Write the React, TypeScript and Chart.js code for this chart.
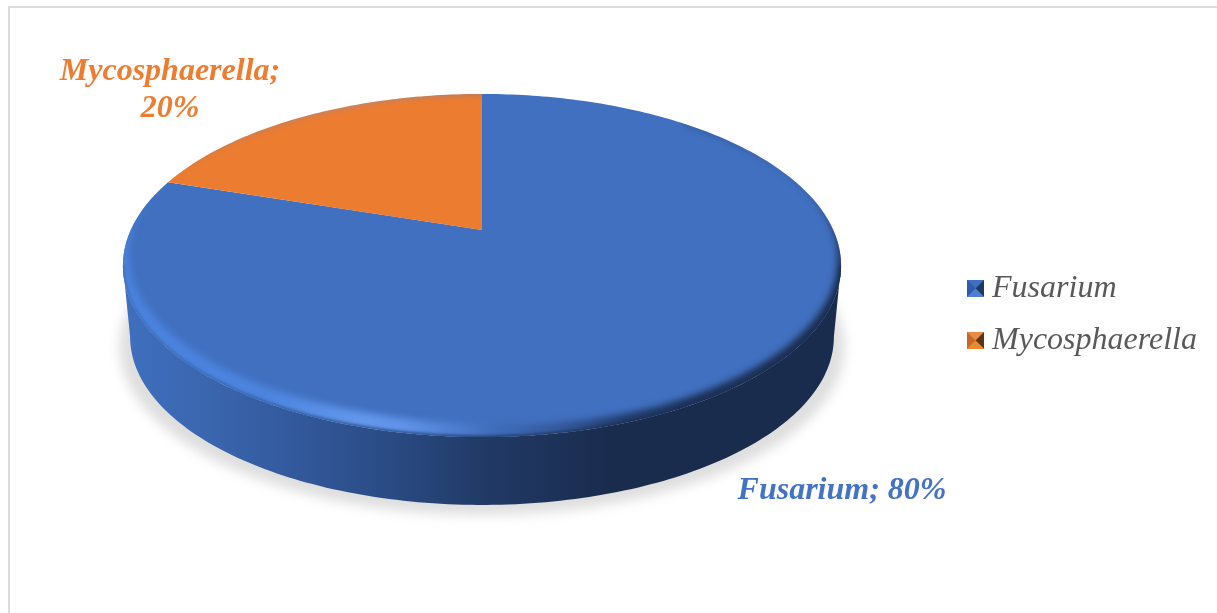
import React, { useEffect, useRef } from "react";
import { Chart, PieController, ArcElement, Legend, Tooltip } from "chart.js";

const categories = ["Fusarium", "Mycosphaerella"];
const shares = [80, 20];
const faceColors = ["#4170C0", "#EC7C30"];
const labelColors = ["#4472C4", "#ED7D31"];
const legendSwatchColors = [
  { top: "#3F6FBF", left: "#2F5CA8", right: "#1F3864", bottom: "#4F80D0" },
  { top: "#E88B44", left: "#C46A25", right: "#5A3414", bottom: "#E8882F" },
];
const labelLines = [["Fusarium; 80%"], ["Mycosphaerella;", "20%"]];
const labelAnchors = [
  { x: 842, y: 491 },
  { x: 170, y: 72 },
];

// Tilted disc: perspective projection of the unit circle onto the page.
const DISC = { cx: 482, cy: 230, a: 351.3, b: 164.2, k: 0.207 };
const EXTRUDE = { dy: 72, scale: 0.98 };
const SAMPLE_STEP = Math.PI / 180;
// Angle at which the projected outline reaches its widest point.
const WIDEST = Math.asin(DISC.k);

type Pt = { x: number; y: number };

function project(angle: number, r = 1): Pt {
  const u = r * Math.cos(angle);
  const v = r * Math.sin(angle);
  const w = 1 - DISC.k * v;
  return { x: DISC.cx + (DISC.a * u) / w, y: DISC.cy + (DISC.b * v) / w };
}

function projectLower(angle: number): Pt {
  const p = project(angle);
  return {
    x: DISC.cx + (p.x - DISC.cx) * EXTRUDE.scale,
    y: DISC.cy + EXTRUDE.dy + (p.y - DISC.cy) * EXTRUDE.scale,
  };
}

function sampleAngles(start: number, end: number): number[] {
  const out: number[] = [];
  const n = Math.max(2, Math.ceil((end - start) / SAMPLE_STEP));
  for (let i = 0; i <= n; i++) out.push(start + ((end - start) * i) / n);
  return out;
}

function traceFace(ctx: CanvasRenderingContext2D, start: number, end: number) {
  ctx.beginPath();
  ctx.moveTo(DISC.cx, DISC.cy);
  for (const t of sampleAngles(start, end)) {
    const p = project(t);
    ctx.lineTo(p.x, p.y);
  }
  ctx.closePath();
}

function smooth(edge0: number, edge1: number, x: number): number {
  const t = Math.min(1, Math.max(0, (x - edge0) / (edge1 - edge0)));
  return t * t * (3 - 2 * t);
}

// Bevel ribbon thickness along the rim: thin on the shaded right, fuller on the lit left.
function bevelAmount(t: number): number {
  const grow = smooth(-0.85, 0.3, t) * (0.55 + 0.45 * smooth(1.1, 1.9, t));
  return grow * (1 - 0.55 * smooth(Math.PI - 0.1, 3.5, t));
}

function traceBevel(ctx: CanvasRenderingContext2D, start: number, end: number) {
  const angles = sampleAngles(start, end);
  ctx.beginPath();
  angles.forEach((t) => {
    const p = project(t, 1.01);
    ctx.lineTo(p.x, p.y);
  });
  [...angles].reverse().forEach((t) => {
    const f = bevelAmount(t);
    const p = project(t, 1 - 0.016 * f);
    ctx.lineTo(p.x, p.y - 11 * f);
  });
  ctx.closePath();
}

function rimGradient(ctx: CanvasRenderingContext2D): CanvasGradient {
  const g = ctx.createLinearGradient(123, 0, 841, 0);
  g.addColorStop(0, "#4A82DC");
  g.addColorStop(0.2, "#4C84DE");
  g.addColorStop(0.33, "#6398EC");
  g.addColorStop(0.39, "#5F93E8");
  g.addColorStop(0.47, "#4C7CCC");
  g.addColorStop(0.52, "#3F6CB8");
  g.addColorStop(0.6, "#34599C");
  g.addColorStop(0.7, "#1F3764");
  g.addColorStop(0.8, "#1A2C4E");
  g.addColorStop(1, "#1A2C4E");
  return g;
}

function wallGradient(ctx: CanvasRenderingContext2D): CanvasGradient {
  const g = ctx.createLinearGradient(123, 0, 841, 0);
  g.addColorStop(0, "#3F6FBE");
  g.addColorStop(0.12, "#3A66AE");
  g.addColorStop(0.25, "#32589A");
  g.addColorStop(0.38, "#294A82");
  g.addColorStop(0.5, "#213A66");
  g.addColorStop(0.68, "#1A2C4E");
  g.addColorStop(1, "#1A2C4E");
  return g;
}

// Slice element that paints its face through the disc projection.
class TiltedArc extends ArcElement {
  static id = "tiltedArc";
  static defaults = { ...ArcElement.defaults };
  draw(ctx: CanvasRenderingContext2D) {
    const { startAngle, endAngle } = this.getProps(["startAngle", "endAngle"]) as any;
    ctx.save();
    traceFace(ctx, startAngle, endAngle);
    ctx.fillStyle = (this.options as any).backgroundColor;
    ctx.fill();
    ctx.clip();
    // Soft bevel on whichever part of the slice faces the viewer.
    const rimStart = Math.max(startAngle, -0.85);
    if (endAngle > 0) {
      ctx.filter = "blur(3.5px)";
      ctx.fillStyle = rimGradient(ctx);
      traceBevel(ctx, rimStart, endAngle);
      ctx.fill();
      // Outer lip melts into the wall below it.
      ctx.filter = "blur(1.5px)";
      ctx.strokeStyle = wallGradient(ctx);
      ctx.lineWidth = 3;
      ctx.beginPath();
      sampleAngles(Math.max(rimStart, WIDEST), Math.PI - WIDEST).forEach((t) => {
        const p = project(t);
        ctx.lineTo(p.x, p.y);
      });
      ctx.stroke();
      ctx.filter = "none";
    }
    ctx.restore();
  }
}

class TiltedPieController extends PieController {
  static id = "tiltedPie";
  static defaults = { ...PieController.defaults, dataElementType: "tiltedArc" };
}

// Drop shadow and extruded wall, painted underneath the slice faces.
const discBody = {
  id: "discBody",
  beforeDatasetsDraw(chart: Chart) {
    const ctx = chart.ctx;
    ctx.save();
    ctx.filter = "blur(6px)";
    ctx.fillStyle = "rgba(0,0,0,0.13)";
    ctx.beginPath();
    for (const t of sampleAngles(0, Math.PI * 2)) {
      const p = projectLower(t);
      ctx.lineTo(DISC.cx + (p.x - DISC.cx) * 1.03, p.y + 10);
    }
    ctx.closePath();
    ctx.fill();
    ctx.filter = "none";

    ctx.fillStyle = wallGradient(ctx);
    ctx.beginPath();
    const angles = sampleAngles(WIDEST, Math.PI - WIDEST);
    angles.forEach((t) => {
      const p = project(t);
      ctx.lineTo(p.x, p.y);
    });
    [...angles].reverse().forEach((t) => {
      const p = projectLower(t);
      ctx.lineTo(p.x, p.y);
    });
    ctx.closePath();
    ctx.fill();
    ctx.restore();
  },
};

// Chart frame and the slice captions.
const chartDecor = {
  id: "chartDecor",
  beforeDraw(chart: Chart) {
    const ctx = chart.ctx;
    ctx.save();
    ctx.strokeStyle = "#DCDCDC";
    ctx.lineWidth = 2;
    ctx.beginPath();
    ctx.moveTo(9, 620);
    ctx.lineTo(9, 7);
    ctx.lineTo(1220, 7);
    ctx.stroke();
    ctx.restore();
  },
  afterDatasetsDraw(chart: Chart) {
    const ctx = chart.ctx;
    ctx.save();
    ctx.font = 'italic bold 32px "Liberation Serif"';
    ctx.textAlign = "center";
    ctx.textBaseline = "middle";
    labelLines.forEach((lines, i) => {
      ctx.fillStyle = labelColors[i];
      lines.forEach((line, j) => ctx.fillText(line, labelAnchors[i].x, labelAnchors[i].y + j * 37));
    });
    ctx.restore();
  },
};

function makeSwatch(c: (typeof legendSwatchColors)[number]): HTMLCanvasElement {
  const size = 17;
  const s = document.createElement("canvas");
  s.width = size;
  s.height = size;
  const g = s.getContext("2d")!;
  const mid = size / 2;
  g.fillStyle = c.top;
  g.fillRect(0, 0, size, size);
  const tri = (ax: number, ay: number, bx: number, by: number, color: string) => {
    g.fillStyle = color;
    g.beginPath();
    g.moveTo(mid, mid);
    g.lineTo(ax, ay);
    g.lineTo(bx, by);
    g.closePath();
    g.fill();
  };
  tri(0, 0, 0, size, c.left);
  tri(size, 0, size, size, c.right);
  tri(0, size, size, size, c.bottom);
  return s;
}

Chart.register(TiltedArc as any, TiltedPieController as any, Legend, Tooltip);

export default function App() {
  const ref = useRef<HTMLCanvasElement>(null);
  useEffect(() => {
    document.body.style.margin = "0";
    document.body.style.background = "#ffffff";
    const swatches = legendSwatchColors.map(makeSwatch);
    const chart = new Chart(ref.current!, {
      type: "tiltedPie" as any,
      data: {
        labels: categories,
        datasets: [{ data: shares, backgroundColor: faceColors, borderWidth: 0 }],
      },
      options: {
        responsive: false,
        animation: false,
        layout: { padding: { top: 16, right: 10 } },
        plugins: {
          tooltip: { enabled: false },
          legend: {
            position: "right",
            align: "center",
            labels: {
              usePointStyle: true,
              pointStyleWidth: 1,
              color: "#595959",
              padding: 20,
              font: { family: '"Liberation Serif"', size: 32, style: "italic" },
              generateLabels: () =>
                categories.map((text, i) => ({
                  text,
                  pointStyle: swatches[i],
                  fontColor: "#595959",
                  hidden: false,
                  index: i,
                  datasetIndex: 0,
                })),
            },
          },
        },
      } as any,
      plugins: [discBody, chartDecor],
    });
    return () => chart.destroy();
  }, []);
  return (
    <div style={{ width: 1217, height: 613 }}>
      <canvas ref={ref} width={1217} height={613} style={{ display: "block" }} />
    </div>
  );
}
